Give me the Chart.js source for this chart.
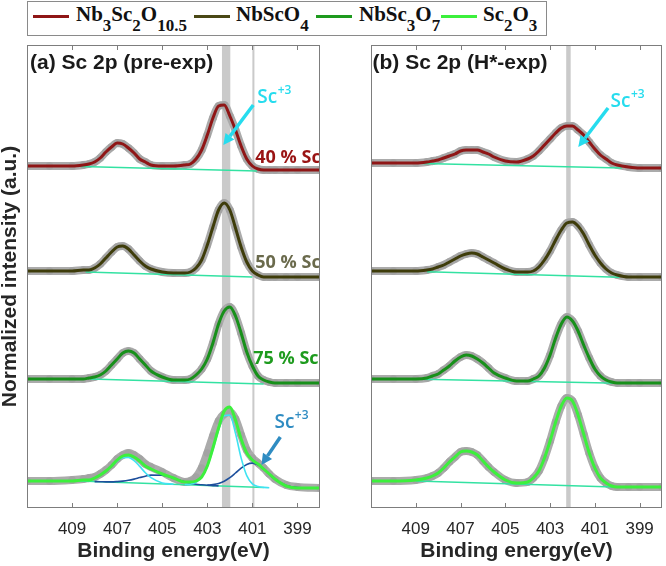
<!DOCTYPE html>
<html>
<head>
<meta charset="utf-8">
<script src="https://cdn.jsdelivr.net/npm/chart.js@4.4.1/dist/chart.umd.min.js"></script>
<style>
  body { margin: 0; width: 666px; height: 566px; background: #fff; position: relative; overflow: hidden; }
  #legend { position: absolute; left: 27px; top: 1px; width: 518px; height: 33px; border: 1.5px solid #8a8a8a;
            font-family: 'Liberation Serif', 'Times New Roman', serif; font-weight: bold; font-size: 21px; color: #111; }
  #legend .ln { position: absolute; top: 13px; width: 36px; height: 3px; }
  #legend .tx { position: absolute; top: 2px; line-height: 21px; white-space: nowrap; }
  #legend sub { font-size: 17px; vertical-align: -10px; line-height: 0; }
  canvas { position: absolute; top: 40px; }
</style>
</head>
<body>
<div id="legend">
  <span class="ln" style="left:5px;background:#8f1616"></span><span class="tx" style="left:48px">Nb<sub>3</sub>Sc<sub>2</sub>O<sub>10.5</sub></span>
  <span class="ln" style="left:166px;background:#4a4816"></span><span class="tx" style="left:208px">NbScO<sub>4</sub></span>
  <span class="ln" style="left:288px;background:#1e9a1e"></span><span class="tx" style="left:331px">NbSc<sub>3</sub>O<sub>7</sub></span>
  <span class="ln" style="left:413px;background:#3cf03c"></span><span class="tx" style="left:455px">Sc<sub>2</sub>O<sub>3</sub></span>
</div>
<canvas id="pre" width="330" height="526" style="left:0"></canvas>
<canvas id="hexp" width="336" height="526" style="left:330px"></canvas>
<script>
// binding energy grid (eV)
const energy = [411, 410, 409, 408.5, 408.25, 408, 407.75, 407.5, 407.25, 407, 406.75, 406.5, 406.25, 406, 405.75, 405.5, 405, 404.5,
  404, 403.75, 403.5, 403.25, 403, 402.75, 402.5, 402.25, 402, 401.75, 401.5, 401.25, 401, 400.75, 400.5, 400.25, 400, 399.5, 399, 398];
const tickValues = [409, 407, 405, 403, 401, 399];
const N = null;

// (a) pre-exp, stacked spectra (normalized, offset)
const preNb3Sc2 = [342, 342, 342, 343, 344, 346, 350, 356, 361, 365, 364, 360, 355, 349, 346, 343, 342, 342,
  343, 344, 349, 358, 373, 390, 402, 403, 392, 378, 362, 349, 342, 339, 338, 338, 338, 338, 338, 338];
const preNbSc = [237, 237, 237, 238, 238, 240, 244, 250, 256, 261, 262, 259, 253, 247, 242, 239, 236, 235,
  235, 236, 240, 248, 263, 281, 298, 305, 298, 280, 261, 246, 237, 233, 231, 231, 231, 231, 231, 231];
const preNbSc3 = [129, 129, 129, 129, 130, 131, 133, 137, 143, 149, 155, 157, 155, 149, 143, 137, 131, 128,
  128, 129, 133, 139, 149, 165, 184, 197, 201, 192, 175, 156, 142, 132, 128, 126, 125, 125, 125, 125];
const preSc2O3 = [27, 27, 27, 28, 28, 30, 33, 37, 42, 48, 52, 53, 51, 47, 42, 39, 34, 30,
  26, 26, 27, 31, 42, 60, 80, 97, 101, 88, 69, 55, 48, 44, 39, 34, 29, 22, 20, 20];
const preSc2O3Data = [27, 27, 28, 29, 30, 31, 34, 38, 43, 49, 53, 55, 53, 49, 44, 41, 36, 30,
  26, 27, 31, 40, 55, 72, 87, 94, 96, 89, 73, 58, 50, 45, 40, 34, 29, 23, 21, 20];
// Sc2O3 fit components
const preCompA = [N, N, 27, 27.5, 28.3, 29.9, 32.9, 37.1, 42.1, 47, 50.2, 50.6, 47.4, 41.6, 35.3, 30.3, 25.1, 23.8,
  N, N, N, N, N, N, N, N, N, N, N, N, N, N, N, N, N, N, N, N];
const preCompA2 = [N, N, N, N, N, 26.4, 26.3, 26.1, 26.1, 26.4, 26.9, 27.7, 28.9, 30.4, 31.8, 32.9, 32.8, 29.8,
  26.2, 24.8, 23.8, 23.2, 22.7, 22.4, 22.1, N, N, N, N, N, N, N, N, N, N, N, N, N];
const preCompB = [N, N, N, N, N, N, N, N, N, N, N, N, N, N, N, N, N, N,
  23.5, 23.9, 25.8, 30.9, 41.6, 58.6, 78.1, 92.3, 92.9, 74.7, 50.1, 32.4, 24.1, 21.4, 20.6, 20.3, N, N, N, N];
const preCompB2 = [N, N, N, N, N, N, N, N, N, N, N, N, N, N, N, N, N, N,
  N, N, N, N, 22.9, 23.4, 24.5, 26.8, 30.3, 35, 39.9, 43.6, 44.9, 43.2, 39.1, 33.8, 28.8, 22.5, 20.4, 20];
const preBkgE = [[408.6, 400.8], [408.4, 401.0], [408.2, 400.5], [408.7, 400.5]];
const preBkgY = [[341.5, 337], [236, 231], [129, 124], [27, 20.5]];

// (b) H*-exp
const hexpNb3Sc2 = [345, 345, 345, 346, 347, 348, 350, 352, 354, 357, 358, 358, 358, 356, 354, 351, 347, 346,
  349, 352, 357, 363, 369, 375, 380, 382, 382, 378, 373, 366, 359, 353, 349, 345, 343, 341, 340, 340];
const hexpNbSc = [237, 237, 237, 238, 239, 241, 243, 246, 249, 252, 254, 255, 254, 251, 248, 245, 239, 236,
  236, 237, 241, 248, 257, 268, 278, 285, 286, 282, 274, 263, 253, 245, 239, 235, 233, 231, 231, 231];
const hexpNbSc3 = [129, 129, 129, 130, 132, 134, 138, 142, 147, 151, 153, 152, 149, 145, 140, 135, 130, 127,
  127, 129, 132, 140, 153, 170, 184, 191, 187, 177, 163, 150, 139, 132, 128, 126, 125, 125, 125, 125];
const hexpSc2O3 = [27, 27, 28, 30, 32, 35, 40, 46, 51, 56, 57, 56, 53, 47, 41, 36, 28, 25,
  26, 30, 37, 50, 67, 86, 102, 110, 107, 93, 74, 55, 40, 30, 25, 22, 21, 21, 21, 21];
const hexpBkgE = [[408.7, 399.8], [408.5, 399.9], [408.7, 399.9], [409.0, 399.8]];
const hexpBkgY = [[344.5, 340], [236.3, 230.7], [128.7, 124.7], [27, 20.7]];

const seriesColors = ['#8f1616', '#3e3c0a', '#17901a', '#3cf03c'];
const compCyan = '#3fe3f2', compBlue = '#1d4f9c', bkgColor = '#33e2a2';
const ionCyan = '#26dcee', ionBlue = '#2f8cc2';
const sansFont = "'Liberation Sans', Arial, sans-serif";
const labelFont = "'Open Sans', sans-serif";

function pts(ys) {
  return energy.map((e, i) => ({x: e, y: ys[i]})).filter(p => p.y !== null);
}
function line(ys, color, width, order, extra) {
  return Object.assign({data: pts(ys), borderColor: color, borderWidth: width, pointRadius: 0, fill: false,
    cubicInterpolationMode: 'monotone', order: order}, extra || {});
}
function bkgLine(e, v) {
  return {data: [{x: e[0], y: v[0]}, {x: e[1], y: v[1]}], borderColor: bkgColor, borderWidth: 1.5, pointRadius: 0, order: 3};
}
function measured(ys) {
  return line(ys, '#ababab', 8, 4, {pointRadius: 3.8, pointBackgroundColor: '#a3a3a3', pointBorderWidth: 0});
}

function arrow(ctx, x1, y1, x2, y2) {
  const ang = Math.atan2(y2 - y1, x2 - x1), head = 11, half = 5.5;
  const bx = x2 - head * Math.cos(ang), by = y2 - head * Math.sin(ang);
  ctx.lineWidth = 3.5;
  ctx.beginPath(); ctx.moveTo(x1, y1); ctx.lineTo(bx, by); ctx.stroke();
  ctx.beginPath();
  ctx.moveTo(x2, y2);
  ctx.lineTo(bx + half * Math.sin(ang), by - half * Math.cos(ang));
  ctx.lineTo(bx - half * Math.sin(ang), by + half * Math.cos(ang));
  ctx.closePath(); ctx.fill();
}

// per-panel annotations
const decorById = {
  pre: {
    title: '(a) Sc 2p (pre-exp)', titleDx: 3,
    bands: [[402.35, 401.98], [401.0, 400.91]],
    tags: [
      {text: '40 % Sc', e: 400.87, v: 350, color: '#9a1414'},
      {text: '50 % Sc', e: 400.87, v: 245, color: '#6a6a4c'},
      {text: '75 % Sc', e: 400.96, v: 149, color: '#1e9b1e'}
    ],
    ions: [
      {e: 400.78, v: 410, color: ionCyan, from: [400.96, 403], to: [402.29, 363]},
      {e: 400.02, v: 85, color: ionBlue, from: [399.76, 71], to: [400.6, 43]}
    ]
  },
  hexp: {
    title: '(b) Sc 2p (H*-exp)', titleDx: 1.5,
    bands: [[402.28, 402.08]],
    tags: [],
    ions: [{e: 400.3, v: 406, color: ionCyan, from: [400.41, 400], to: [401.74, 361]}]
  }
};

const decor = {
  id: 'decor',
  beforeDatasetsDraw(chart) {
    const d = decorById[chart.canvas.id];
    const {ctx, chartArea: a, scales: {x}} = chart;
    ctx.save();
    ctx.fillStyle = '#cacaca';
    d.bands.forEach(b => {
      const x1 = x.getPixelForValue(b[0]), x2 = x.getPixelForValue(b[1]);
      ctx.fillRect(x1, a.top, x2 - x1, a.bottom - a.top);
    });
    ctx.restore();
  },
  afterDatasetsDraw(chart) {
    const d = decorById[chart.canvas.id];
    const {ctx, chartArea: a, scales: {x, y}} = chart;
    ctx.save();
    ctx.beginPath(); ctx.rect(a.left, a.top, a.right - a.left, a.bottom - a.top); ctx.clip();
    ctx.textBaseline = 'middle';
    d.tags.forEach(t => {
      ctx.font = 'bold 18px ' + labelFont;
      ctx.fillStyle = t.color;
      ctx.fillText(t.text, x.getPixelForValue(t.e), y.getPixelForValue(t.v));
    });
    d.ions.forEach(s => {
      ctx.strokeStyle = s.color; ctx.fillStyle = s.color;
      arrow(ctx, x.getPixelForValue(s.from[0]), y.getPixelForValue(s.from[1]),
        x.getPixelForValue(s.to[0]), y.getPixelForValue(s.to[1]));
      const px = x.getPixelForValue(s.e), py = y.getPixelForValue(s.v);
      ctx.font = '600 19px ' + labelFont;
      ctx.fillText('Sc', px, py);
      const w = ctx.measureText('Sc').width;
      ctx.font = '600 12px ' + labelFont;
      ctx.fillText('+3', px + w + 0.5, py - 7);
    });
    ctx.fillStyle = '#1a1a1a';
    ctx.font = 'bold 21px ' + sansFont;
    ctx.fillText(d.title, a.left + d.titleDx, a.top + 18);
    ctx.restore();

    // frame + inward ticks top and bottom
    ctx.save();
    ctx.strokeStyle = '#7d7d7d';
    ctx.lineWidth = 1;
    ctx.strokeRect(a.left + 0.5, a.top + 0.5, a.right - a.left - 1, a.bottom - a.top - 1);
    ctx.beginPath();
    tickValues.forEach(v => {
      const px = Math.round(x.getPixelForValue(v)) + 0.5;
      ctx.moveTo(px, a.bottom); ctx.lineTo(px, a.bottom - 5);
      ctx.moveTo(px, a.top); ctx.lineTo(px, a.top + 5);
    });
    ctx.stroke();
    ctx.restore();
  }
};

function panel(id, sets, yWidth, padRight, yTitle) {
  return new Chart(document.getElementById(id), {
    type: 'line',
    data: {datasets: sets},
    plugins: [decor],
    options: {
      responsive: false,
      animation: false,
      events: [],
      layout: {padding: {top: 5, right: padRight, left: 0, bottom: 0}},
      plugins: {legend: {display: false}, tooltip: {enabled: false}},
      scales: {
        x: {
          type: 'linear', reverse: true, min: 398, max: 411,
          afterBuildTicks: s => { s.ticks = tickValues.map(v => ({value: v})); },
          afterFit: s => { s.height = 58; },
          grid: {display: false}, border: {display: false},
          ticks: {color: '#262626', padding: 3, maxRotation: 0, autoSkip: false, font: {family: sansFont, size: 17}},
          title: {display: true, text: 'Binding energy(eV)', color: '#262626', padding: {top: 0, bottom: 2},
            font: {family: sansFont, size: 21, weight: 'bold'}}
        },
        y: {
          min: 0, max: 463,
          afterFit: s => { s.width = yWidth; },
          grid: {display: false}, border: {display: false}, ticks: {display: false},
          title: {display: !!yTitle, text: yTitle || '', color: '#262626', padding: 0,
            font: {family: sansFont, size: 21, weight: 'bold', lineHeight: 1}}
        }
      }
    }
  });
}

const preFits = [preNb3Sc2, preNbSc, preNbSc3, preSc2O3];
const preMeasured = [preNb3Sc2, preNbSc, preNbSc3, preSc2O3Data];
const preSets = [
  ...preFits.map((ys, k) => line(ys, seriesColors[k], 3, 1)),
  line(preCompA, compCyan, 1.6, 2), line(preCompB, compCyan, 1.6, 2),
  line(preCompA2, compBlue, 1.6, 2), line(preCompB2, compBlue, 1.6, 2),
  ...preBkgE.map((e, k) => bkgLine(e, preBkgY[k])),
  ...preMeasured.map(measured)
];

const hexpFits = [hexpNb3Sc2, hexpNbSc, hexpNbSc3, hexpSc2O3];
const hexpSets = [
  ...hexpFits.map((ys, k) => line(ys, seriesColors[k], 3, 1)),
  ...hexpBkgE.map((e, k) => bkgLine(e, hexpBkgY[k])),
  ...hexpFits.map(measured)
];

panel('pre', preSets, 27, 10, 'Normalized intensity (a.u.)');
panel('hexp', hexpSets, 41, 3, '');
</script>
</body>
</html>
